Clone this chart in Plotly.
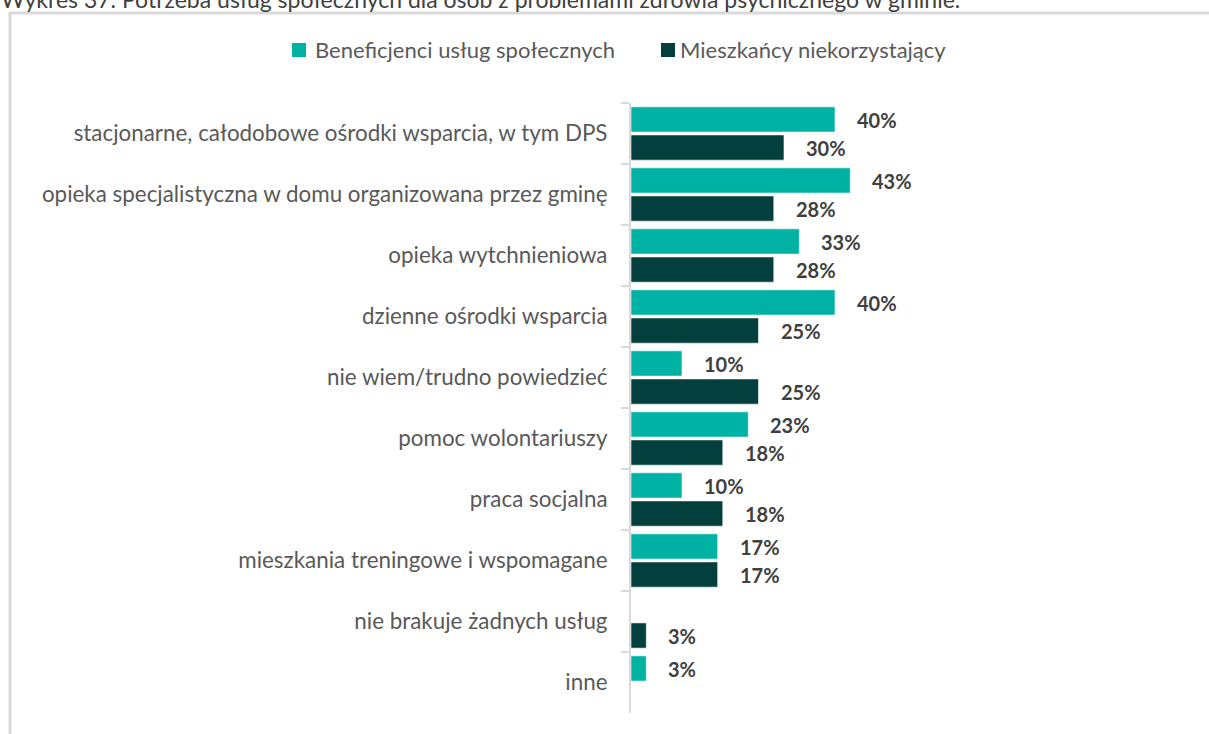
import plotly.graph_objects as go

# Kategorie usług i odsetki dla obu grup respondentów
categories = [
    "stacjonarne, całodobowe ośrodki wsparcia, w tym DPS",
    "opieka specjalistyczna w domu organizowana przez gminę",
    "opieka wytchnieniowa",
    "dzienne ośrodki wsparcia",
    "nie wiem/trudno powiedzieć",
    "pomoc wolontariuszy",
    "praca socjalna",
    "mieszkania treningowe i wspomagane",
    "nie brakuje żadnych usług",
    "inne",
]
beneficjenci = [40, 43, 33, 40, 10, 23, 10, 17, None, 3]
mieszkancy = [30, 28, 28, 25, 25, 18, 18, 17, 3, None]

series_names = ["Beneficjenci usług społecznych", "Mieszkańcy niekorzystający"]
colors = ["#00b2a3", "#033f3c"]
title_text = "Wykres 37. Potrzeba usług społecznych dla osób z problemami zdrowia psychicznego w gminie."

W, H = 1209, 734
ML, MR, MT, MB = 631, 68, 103, 21
plot_w = W - ML - MR
plot_h = H - MT - MB


def px_x(x):
    """Pixel column -> paper x."""
    return (x - ML) / plot_w


def px_y(y):
    """Pixel row (from top) -> paper y."""
    return (H - MB - y) / plot_h


fig = go.Figure()
for name, vals, col in zip(series_names, [beneficjenci, mieszkancy], colors):
    fig.add_trace(go.Bar(
        y=categories, x=vals, name=name, orientation="h",
        marker=dict(color=col, line=dict(color="rgba(255,255,255,0.6)", width=1)),
        hoverinfo="skip", showlegend=False,
    ))

# Etykiety wartości przy końcach słupków
annotations = []
for vals, ysh in [(beneficjenci, 14), (mieszkancy, -14)]:
    for cat, v in zip(categories, vals):
        if v is None:
            continue
        annotations.append(dict(
            x=v, y=cat, xref="x", yref="y", text=f"{v}%", showarrow=False,
            xanchor="left", yanchor="middle", xshift=20, yshift=ysh,
            font=dict(family="Lato", size=20, color="#404040", weight="bold"),
        ))

# Tytuł wykresu nad ramką
annotations.append(dict(
    x=px_x(-1), y=px_y(15), xref="paper", yref="paper",
    text=title_text, showarrow=False, xanchor="left", yanchor="bottom",
    font=dict(family="Lato", size=23, color="#404040"),
))

# Legenda: kwadraty z kolorem serii i opisy
shapes = []
legend_pos = [(292, 313), (661, 678)]
for (sq_x, tx_x), name, col in zip(legend_pos, series_names, colors):
    shapes.append(dict(
        type="rect", xref="paper", yref="paper",
        x0=px_x(sq_x), x1=px_x(sq_x + 14), y0=px_y(57), y1=px_y(43),
        line=dict(width=0), fillcolor=col,
    ))
    annotations.append(dict(
        x=px_x(tx_x), y=px_y(50), xref="paper", yref="paper",
        text=name, showarrow=False, xanchor="left", yanchor="middle",
        font=dict(family="Lato", size=22, color="#595959"),
    ))

# Ramka obszaru wykresu
shapes.append(dict(
    type="rect", xref="paper", yref="paper",
    x0=px_x(10), x1=px_x(W + 20), y0=px_y(H + 20), y1=px_y(13),
    line=dict(color="#d9d9d9", width=3), fillcolor="rgba(0,0,0,0)", layer="below",
))

fig.update_layout(
    width=W, height=H,
    margin=dict(l=ML, r=MR, t=MT, b=MB, autoexpand=False),
    paper_bgcolor="white", plot_bgcolor="white",
    barmode="group", bargap=0.08, bargroupgap=0.1,
    font=dict(family="Lato", color="#595959"),
    xaxis=dict(range=[0, 100], visible=False, fixedrange=True),
    yaxis=dict(
        categoryorder="array", categoryarray=categories, autorange="reversed",
        showline=True, linecolor="#d9d9d9", linewidth=2,
        ticks="outside", ticklen=8, tickcolor="#d9d9d9", tickwidth=2,
        tickson="boundaries", ticklabelstandoff=17,
        tickfont=dict(family="Lato", size=22.4, color="#595959"),
        showgrid=False, zeroline=False,
    ),
    showlegend=False,
    annotations=annotations,
    shapes=shapes,
)

fig.write_html("out.html")
